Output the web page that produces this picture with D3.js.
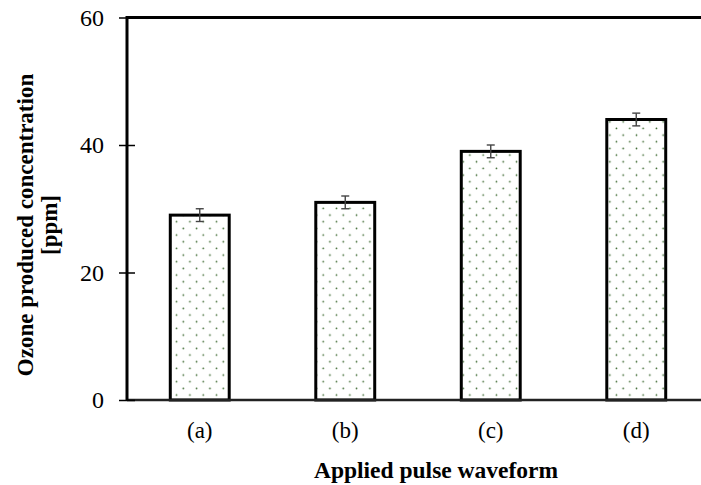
<!DOCTYPE html>
<html>
<head>
<meta charset="utf-8">
<script src="https://cdn.jsdelivr.net/npm/d3@7"></script>
<style>
  html, body { margin: 0; padding: 0; background: #fff; }
  svg { display: block; }
  text { font-family: "Liberation Serif", "Times New Roman", serif; fill: #000; }
</style>
</head>
<body>
<svg id="chart" width="701" height="485"></svg>
<script>
// Ozone concentration produced for each applied pulse waveform
const categories = ["(a)", "(b)", "(c)", "(d)"];
const ozonePpm = [29, 31, 39, 44];
const errorPpm = [1, 1, 1, 1];
const yTicks = [0, 20, 40, 60];

const svg = d3.select("#chart");
const plotLeft = 127, plotRight = 709, plotTop = 17.5, plotBottom = 400;

const x = d3.scaleBand()
  .domain(categories)
  .range([plotLeft, plotRight])
  .paddingInner(0.595)
  .paddingOuter(0.2975);

const y = d3.scaleLinear().domain([0, 60]).range([plotBottom, plotTop]);

// Dotted fill pattern for the bars
const defs = svg.append("defs");
const pat = defs.append("pattern")
  .attr("id", "dots")
  .attr("patternUnits", "userSpaceOnUse")
  .attr("width", 13.33).attr("height", 13.33)
  .attr("x", 0).attr("y", y(60) + 1);
pat.append("rect").attr("width", 13.33).attr("height", 13.33).attr("fill", "#fff");
pat.append("circle").attr("cx", 3.3).attr("cy", 3.3).attr("r", 0.85).attr("fill", "#3f6b33");
pat.append("circle").attr("cx", 10).attr("cy", 10).attr("r", 0.85).attr("fill", "#3f6b33");

// Frame line along the top, running to the right edge
svg.append("line")
  .attr("x1", plotLeft).attr("x2", 701)
  .attr("y1", y(60)).attr("y2", y(60))
  .attr("stroke", "#000").attr("stroke-width", 3);

// Bars
svg.append("g").selectAll("rect")
  .data(categories)
  .join("rect")
  .attr("x", d => x(d))
  .attr("y", (d, i) => y(ozonePpm[i]))
  .attr("width", x.bandwidth())
  .attr("height", (d, i) => y(0) - y(ozonePpm[i]))
  .attr("fill", "url(#dots)")
  .attr("stroke", "#000")
  .attr("stroke-width", 3);

// Error bars
const eg = svg.append("g").attr("stroke", "#444").attr("stroke-width", 1.4);
categories.forEach((c, i) => {
  const cx = x(c) + x.bandwidth() / 2;
  const hi = y(ozonePpm[i] + errorPpm[i]);
  const lo = y(ozonePpm[i] - errorPpm[i]);
  eg.append("line").attr("x1", cx).attr("x2", cx).attr("y1", hi).attr("y2", lo);
  eg.append("line").attr("x1", cx - 4).attr("x2", cx + 4).attr("y1", hi).attr("y2", hi);
  eg.append("line").attr("x1", cx - 4).attr("x2", cx + 4).attr("y1", lo).attr("y2", lo);
});

// Baseline
svg.append("line")
  .attr("x1", plotLeft).attr("x2", 701)
  .attr("y1", y(0)).attr("y2", y(0))
  .attr("stroke", "#222").attr("stroke-width", 2.5);

// Y axis with ticks crossing the axis line
const yAxis = d3.axisLeft(y).tickValues(yTicks).tickSize(8).tickPadding(14);
const yg = svg.append("g").attr("transform", `translate(${plotLeft},0)`).call(yAxis);
yg.select(".domain").remove();
yg.selectAll(".tick line").attr("x2", 8).attr("x1", -8).attr("stroke", "#000").attr("stroke-width", 1.5);
yg.selectAll(".tick text")
  .attr("x", -23)
  .style("font-family", "'Liberation Serif', serif")
  .style("font-size", "24px")
  .attr("fill", "#000");
svg.append("line")
  .attr("x1", plotLeft).attr("x2", plotLeft)
  .attr("y1", y(60) - 1.5).attr("y2", y(0) + 1)
  .attr("stroke", "#000").attr("stroke-width", 3);

// X axis category labels
const xAxis = d3.axisBottom(x).tickSize(0).tickPadding(22);
const xg = svg.append("g").attr("transform", `translate(0,${plotBottom})`).call(xAxis);
xg.select(".domain").remove();
xg.selectAll(".tick text")
  .style("font-family", "'Liberation Serif', serif")
  .style("font-size", "23px")
  .attr("fill", "#000");

// Axis titles
svg.append("text")
  .attr("x", 436).attr("y", 478)
  .attr("text-anchor", "middle")
  .style("font-size", "23.5px").style("font-weight", "bold")
  .text("Applied pulse waveform");

const yt = svg.append("text")
  .attr("transform", "translate(33,225) rotate(-90)")
  .attr("text-anchor", "middle")
  .style("font-size", "23px").style("font-weight", "bold");
yt.append("tspan").attr("x", 0).attr("y", 0).text("Ozone produced concentration");
yt.append("tspan").attr("x", 0).attr("y", 24).text("[ppm]");
</script>
</body>
</html>
